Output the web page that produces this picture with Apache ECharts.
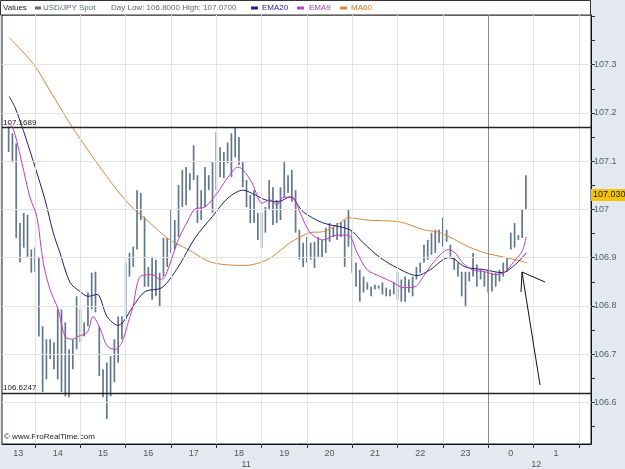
<!DOCTYPE html>
<html>
<head>
<meta charset="utf-8">
<title>USD/JPY Spot</title>
<script src="https://cdn.jsdelivr.net/npm/echarts@6.0.0/dist/echarts.min.js"></script>
<style>
  html, body { margin: 0; padding: 0; background: #e4e9f1; }
  #chart { width: 625px; height: 469px; }
</style>
</head>
<body>
<div id="chart"></div>
<script>
  // 5 minute bars, first one at 13:25 of day 11. x axis = hours since 13:00
  var barStart = 25 / 60
  var barStep = 5 / 60

  var barHigh = [
    107.172, 107.158, 107.137, 106.972, 106.993, 106.989, 106.917, 106.921, 106.902, 106.758,
    106.731, 106.731, 106.725, 106.793, 106.793, 106.766, 106.710, 106.731, 106.820, 106.793,
    106.766, 106.828, 106.869, 106.871, 106.758, 106.669, 106.683, 106.696, 106.731, 106.778,
    106.778, 106.890, 106.910, 106.923, 107.040, 107.034, 106.985, 106.881, 106.902, 106.896,
    106.869, 106.941, 106.941, 106.999, 106.978, 107.051, 107.082, 107.088, 107.075, 107.133,
    107.071, 107.040, 107.088, 107.071, 107.098, 107.160, 107.129, 107.119, 107.139, 107.158,
    107.170, 107.150, 107.098, 107.061, 107.030, 107.040, 106.993, 106.993, 107.005, 107.061,
    107.046, 107.020, 107.046, 107.098, 107.071, 107.082, 107.040, 106.958, 106.931, 106.943,
    106.931, 106.933, 106.943, 106.937, 106.962, 106.972, 106.964, 106.972, 106.974, 106.978,
    106.999, 106.958, 106.890, 106.875, 106.861, 106.849, 106.840, 106.844, 106.842, 106.849,
    106.838, 106.834, 106.849, 106.871, 106.855, 106.861, 106.855, 106.861, 106.881, 106.890,
    106.927, 106.937, 106.952, 106.958, 106.958, 106.983, 106.958, 106.927, 106.902, 106.890,
    106.871, 106.871, 106.871, 106.910, 106.886, 106.875, 106.871, 106.875, 106.869, 106.869,
    106.875, 106.890, 106.900, 106.952, 106.972, 106.947, 106.999, 107.071
  ]
  var barLow = [
    107.119, 107.098, 106.941, 106.890, 106.921, 106.902, 106.869, 106.871, 106.737, 106.622,
    106.648, 106.690, 106.669, 106.648, 106.622, 106.613, 106.611, 106.669, 106.710, 106.725,
    106.737, 106.758, 106.793, 106.787, 106.655, 106.611, 106.566, 106.613, 106.642, 106.683,
    106.731, 106.772, 106.861, 106.881, 106.917, 106.978, 106.840, 106.840, 106.813, 106.820,
    106.799, 106.861, 106.881, 106.910, 106.917, 106.943, 107.005, 107.009, 107.040, 107.061,
    106.972, 106.978, 107.005, 107.040, 106.993, 107.040, 107.067, 107.065, 107.096, 107.067,
    107.108, 107.092, 107.046, 107.005, 106.972, 106.972, 106.937, 106.921, 106.952, 106.999,
    106.968, 106.972, 106.978, 107.026, 107.034, 107.016, 106.952, 106.896, 106.881, 106.890,
    106.896, 106.879, 106.902, 106.900, 106.910, 106.933, 106.943, 106.937, 106.943, 106.881,
    106.923, 106.869, 106.840, 106.809, 106.828, 106.834, 106.820, 106.834, 106.836, 106.824,
    106.820, 106.820, 106.824, 106.813, 106.809, 106.809, 106.828, 106.820, 106.855, 106.869,
    106.890, 106.896, 106.906, 106.910, 106.931, 106.923, 106.933, 106.902, 106.875, 106.861,
    106.820, 106.799, 106.851, 106.861, 106.840, 106.855, 106.840, 106.828, 106.830, 106.840,
    106.851, 106.861, 106.871, 106.917, 106.921, 106.937, 106.941, 106.999
  ]

  // [hour since 13:00, value]
  var ema20 = [
    [0.43, 107.234], [0.56, 107.211], [0.74, 107.164], [1.00, 107.088], [1.22, 107.020],
    [1.40, 106.952], [1.55, 106.910], [1.77, 106.849], [1.99, 106.830], [2.17, 106.820],
    [2.37, 106.824], [2.59, 106.778], [2.83, 106.760], [2.94, 106.766], [3.16, 106.799],
    [3.43, 106.830], [3.80, 106.838], [4.16, 106.881], [4.53, 106.941], [4.91, 106.985],
    [5.26, 107.024], [5.59, 107.040], [5.86, 107.030], [6.08, 107.020], [6.36, 107.016],
    [6.63, 107.026], [6.92, 106.995], [7.36, 106.972], [7.95, 106.958], [8.24, 106.931],
    [8.62, 106.900], [8.99, 106.879], [9.43, 106.863], [9.72, 106.875], [10.12, 106.900],
    [10.27, 106.896], [10.49, 106.881], [10.93, 106.875], [11.31, 106.869], [11.60, 106.886],
    [11.84, 106.910]
  ]
  var ema9 = [
    [0.40, 107.180], [0.51, 107.170], [0.71, 107.096], [0.89, 107.024], [1.04, 106.985],
    [1.18, 106.890], [1.33, 106.834], [1.51, 106.793], [1.66, 106.737], [1.82, 106.731],
    [1.95, 106.737], [2.15, 106.745], [2.28, 106.778], [2.44, 106.752], [2.59, 106.717],
    [2.77, 106.710], [2.92, 106.725], [3.03, 106.758], [3.16, 106.799], [3.32, 106.861],
    [3.58, 106.865], [3.76, 106.855], [3.87, 106.861], [4.16, 106.937], [4.38, 106.978],
    [4.53, 107.001], [4.75, 107.005], [5.02, 107.034], [5.26, 107.067], [5.48, 107.088],
    [5.59, 107.082], [5.79, 107.055], [6.01, 107.013], [6.19, 107.020], [6.34, 107.009],
    [6.45, 107.024], [6.67, 107.026], [6.85, 106.993], [7.07, 106.952], [7.36, 106.937],
    [7.67, 106.947], [7.91, 106.947], [8.11, 106.910], [8.33, 106.875], [8.62, 106.861],
    [8.90, 106.849], [9.12, 106.838], [9.39, 106.840], [9.57, 106.861], [9.79, 106.890],
    [10.12, 106.917], [10.27, 106.910], [10.43, 106.890], [10.65, 106.875], [10.93, 106.871],
    [11.16, 106.865], [11.38, 106.871], [11.60, 106.896], [11.75, 106.913], [11.84, 106.943]
  ]
  var ma60 = [
    [0.43, 107.356], [0.96, 107.302], [1.33, 107.246], [1.77, 107.178], [2.37, 107.096],
    [2.81, 107.040], [3.16, 107.003], [3.54, 106.972], [3.91, 106.941], [4.38, 106.917],
    [4.91, 106.890], [5.64, 106.884], [5.97, 106.890], [6.23, 106.902], [6.63, 106.931],
    [7.07, 106.952], [7.36, 106.954], [7.67, 106.968], [7.91, 106.983], [8.33, 106.978],
    [9.06, 106.974], [9.57, 106.958], [9.94, 106.952], [10.56, 106.923], [10.93, 106.910],
    [11.31, 106.902], [11.86, 106.890]
  ]

  var hourLabels = ['13', '14', '15', '16', '17', '18', '19', '20', '21', '22', '23', '0', '1']
  var dayLabels = ['11', '12']
  var priceLabels = [106.6, 106.7, 106.8, 106.9, 107.0, 107.1, 107.2, 107.3]
  var priceTicks = [106.55, 106.6, 106.65, 106.7, 106.75, 106.8, 106.85, 106.9, 106.95,
    107.0, 107.05, 107.1, 107.15, 107.2, 107.25, 107.3, 107.35, 107.4]
  var hourLines = [1, 2, 3, 4, 5, 6, 7, 8, 9, 10, 12, 13]
  var dayLine = 11
  var resistance = 107.1689
  var support = 106.6247
  var lastPrice = 107.03

  var font = 'Liberation Sans, Arial, sans-serif'
  var bars = barHigh.map(function (h, i) {
    return [barStart + i * barStep, barLow[i], h]
  })

  var chart = echarts.init(document.getElementById('chart'))

  var gridLines = priceLabels.map(function (v) { return { yAxis: v } })
    .concat(hourLines.map(function (h) { return { xAxis: h } }))
  gridLines.push({ xAxis: dayLine, lineStyle: { color: '#8c8c8c' } })

  chart.setOption({
    animation: false,
    backgroundColor: '#e4e9f1',
    textStyle: { fontFamily: font },
    grid: {
      left: 2, right: 34, top: 15, bottom: 24,
      show: true, backgroundColor: '#fff', borderColor: '#222', borderWidth: 1
    },
    xAxis: [{
      type: 'value',
      min: 0.27,
      max: 13.27,
      axisLine: { show: true, lineStyle: { color: '#111' } },
      axisTick: { show: true, length: 4, customValues: hourLines.concat([11]), lineStyle: { color: '#333' } },
      axisLabel: {
        customValues: [0.63, 1.5, 2.5, 3.5, 4.5, 5.5, 6.5, 7.5, 8.5, 9.5, 10.5, 11.5, 12.5],
        formatter: function (v) { return hourLabels[Math.floor(v)] },
        color: '#555', fontSize: 9, margin: 5
      },
      splitLine: { show: false }
    }, {
      type: 'value',
      position: 'bottom',
      min: 0.27,
      max: 13.27,
      axisLine: { show: false },
      axisTick: { show: false },
      axisLabel: {
        customValues: [5.66, 12.06],
        formatter: function (v) { return v < 9 ? dayLabels[0] : dayLabels[1] },
        color: '#555', fontSize: 9, margin: 16
      },
      splitLine: { show: false }
    }],
    yAxis: {
      type: 'value',
      position: 'right',
      min: 106.514,
      max: 107.403,
      axisLine: { show: true, lineStyle: { color: '#111' } },
      axisTick: { show: true, length: 4, inside: false, customValues: priceTicks, lineStyle: { color: '#333' } },
      axisLabel: {
        customValues: priceLabels,
        formatter: function (v) { return String(Math.round(v * 10) / 10) },
        color: '#4e5f70', fontSize: 9, margin: 3
      },
      splitLine: { show: false }
    },
    series: [{
      name: 'grid',
      type: 'line',
      data: [],
      silent: true,
      z: 1,
      markLine: {
        silent: true,
        symbol: 'none',
        animation: false,
        label: { show: false },
        lineStyle: { color: '#e3e3e3', width: 1, type: 'solid' },
        data: gridLines
      }
    }, {
      name: 'USD/JPY Spot',
      type: 'custom',
      z: 2,
      data: bars,
      encode: { x: 0, y: [1, 2] },
      renderItem: function (params, api) {
        var x = api.value(0)
        var top = api.coord([x, api.value(2)])
        var bottom = api.coord([x, api.value(1)])
        return {
          type: 'line',
          shape: { x1: top[0], y1: top[1], x2: bottom[0], y2: bottom[1] },
          style: { stroke: '#62778d', lineWidth: 1.7 }
        }
      },
      markLine: {
        silent: true,
        symbol: 'none',
        animation: false,
        data: [{
          yAxis: resistance,
          lineStyle: { color: '#222', width: 1.4, type: 'solid' },
          label: { show: true, position: 'insideStartTop', formatter: '107.1689', color: '#222', fontSize: 8, distance: 1 }
        }, {
          yAxis: support,
          lineStyle: { color: '#222', width: 1.4, type: 'solid' },
          label: { show: true, position: 'insideStartTop', formatter: '106.6247', color: '#222', fontSize: 8, distance: 1 }
        }, {
          yAxis: lastPrice,
          lineStyle: { color: 'rgba(0,0,0,0)', width: 0 },
          label: {
            show: true, position: 'end', distance: 0, formatter: '107.0300',
            backgroundColor: '#f5c400', color: '#222', fontSize: 9, padding: [2, 2, 1, 2]
          }
        }]
      }
    }, {
      name: 'MA60', type: 'line', z: 3, data: ma60, smooth: 0.3, showSymbol: false,
      lineStyle: { color: '#d4883a', width: 1 }
    }, {
      name: 'EMA20', type: 'line', z: 4, data: ema20, smooth: 0.3, showSymbol: false,
      lineStyle: { color: '#1f1f72', width: 1 }
    }, {
      name: 'EMA9', type: 'line', z: 5, data: ema9, smooth: 0.3, showSymbol: false,
      lineStyle: { color: '#c13dc1', width: 1 }
    }],
    graphic: [
      { type: 'rect', shape: { x: 0.5, y: 0.5, width: 590, height: 14.5 }, style: { fill: '#fff', stroke: '#333', lineWidth: 1 } },
      { type: 'text', x: 3, y: 8, style: { text: 'Values', fill: '#222', font: '8px ' + font, verticalAlign: 'middle' } },
      { type: 'rect', shape: { x: 35, y: 6.5, width: 6, height: 3 }, style: { fill: '#5a7087' } },
      { type: 'text', x: 43, y: 8, style: { text: 'USD/JPY Spot', fill: '#4f6a88', font: '8px ' + font, verticalAlign: 'middle' } },
      { type: 'text', x: 111, y: 8, style: { text: 'Day Low: 106.8000 High: 107.0700', fill: '#666', font: '8px ' + font, verticalAlign: 'middle' } },
      { type: 'rect', shape: { x: 251, y: 6.5, width: 7, height: 3 }, style: { fill: '#1f1f9a' } },
      { type: 'text', x: 262, y: 8, style: { text: 'EMA20', fill: '#1f1f9a', font: '8px ' + font, verticalAlign: 'middle' } },
      { type: 'rect', shape: { x: 297, y: 6.5, width: 7, height: 3 }, style: { fill: '#c13dc1' } },
      { type: 'text', x: 309, y: 8, style: { text: 'EMA9', fill: '#b43ab4', font: '8px ' + font, verticalAlign: 'middle' } },
      { type: 'rect', shape: { x: 340, y: 6.5, width: 7, height: 3 }, style: { fill: '#d4883a' } },
      { type: 'text', x: 351, y: 8, style: { text: 'MA60', fill: '#d07a2a', font: '8px ' + font, verticalAlign: 'middle' } },
      { type: 'text', x: 4, y: 437, style: { text: '\u00a9 www.ProRealTime.com', fill: '#222', font: '8px ' + font, verticalAlign: 'middle' } },
      // hand drawn arrow
      { type: 'polyline', z: 20, shape: { points: [[540, 385], [522, 272], [545, 282]] }, style: { stroke: '#111', lineWidth: 1, fill: null } },
      { type: 'line', z: 20, shape: { x1: 522, y1: 272, x2: 521, y2: 292 }, style: { stroke: '#111', lineWidth: 1 } }
    ]
  })
</script>
</body>
</html>
